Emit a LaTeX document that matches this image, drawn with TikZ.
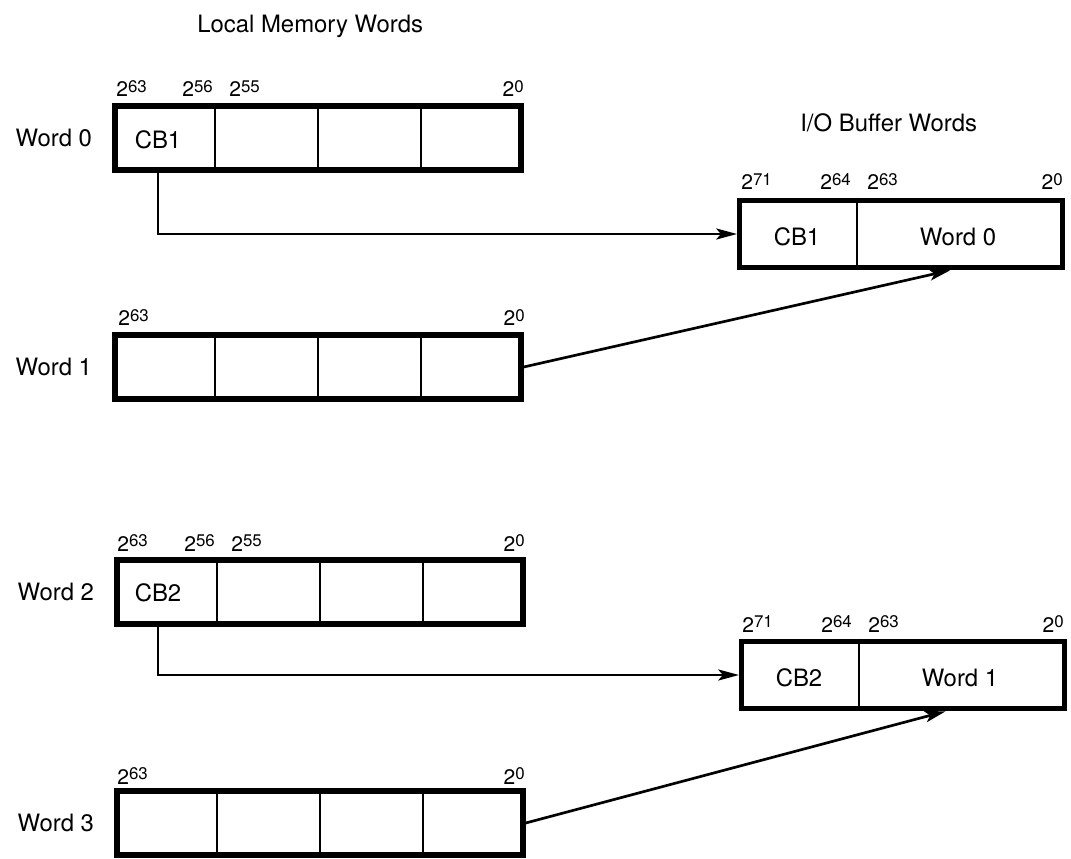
\documentclass[tikz,border=0pt]{standalone}
\usepackage{fontspec}
\setmainfont{TeX Gyre Heros}
\usepackage{tikz}
\usetikzlibrary{arrows.meta,positioning,calc}
\newcommand{\bitpos}[1]{2\raisebox{0.45ex}{\fontsize{12}{12}\selectfont #1}}

\begin{document}
\begin{tikzpicture}[x=0.025cm,y=-0.025cm,
  font=\fontsize{17}{20}\selectfont,
  wbox/.style={draw,line width=3.8pt,minimum width=10.15cm,minimum height=1.6cm,inner sep=0pt},
  iobox/.style={draw,line width=3.8pt,minimum width=8.07cm,minimum height=1.68cm,inner sep=0pt},
  sep/.style={line width=1.3pt},
  lab/.style={inner sep=0pt},
  bit/.style={inner sep=0pt,font=\fontsize{15}{17}\selectfont},
  arr/.style={-{Stealth[length=5.2mm,width=2.8mm,inset=1.2mm]},line width=1.2pt},
  darr/.style={arr,line width=1.9pt}]
\useasboundingbox (0,0) rectangle (1071,859);
% ---------- Titles ----------
\node[lab,anchor=base west] (lmtitle) at (197,33) {Local Memory Words};
\node[lab,anchor=base west] (iotitle) at (800,132) {I/O Buffer Words};
% ---------- Local memory words ----------
\node[wbox] (w0) at (318,138) {};
\node[wbox] (w1) at (318,367) {};
\node[wbox] (w2) at (320,592) {};
\node[wbox] (w3) at (320,823) {};
\foreach \w in {w0,w1,w2,w3}
  \foreach \f in {0.25,0.5,0.75}
    \draw[sep] ($(\w.north west)!\f!(\w.north east)$) -- ($(\w.south west)!\f!(\w.south east)$);
\node[lab,left=0.5cm of w0] (w0name) {Word 0};
\node[lab,left=0.5cm of w1] (w1name) {Word 1};
\node[lab,left=0.5cm of w2] (w2name) {Word 2};
\node[lab,left=0.5cm of w3] (w3name) {Word 3};
\node[lab] (cb1) at (158,140) {CB1};
\node[lab] (cb2) at (158,593) {CB2};
% bit positions above the local words
\node[bit,anchor=base west] (w0b63) at (116,97) {\bitpos{63}};
\node[bit,anchor=base west] (w0b56) at (182,97) {\bitpos{56}};
\node[bit,anchor=base west] (w0b55) at (229,97) {\bitpos{55}};
\node[bit,anchor=base east] (w0b0) at (524,97) {\bitpos{0}};
\node[bit,anchor=base west] (w1b63) at (118,326) {\bitpos{63}};
\node[bit,anchor=base east] (w1b0) at (525,326) {\bitpos{0}};
\node[bit,anchor=base west] (w2b63) at (117,551) {\bitpos{63}};
\node[bit,anchor=base west] (w2b56) at (184,551) {\bitpos{56}};
\node[bit,anchor=base west] (w2b55) at (231,551) {\bitpos{55}};
\node[bit,anchor=base east] (w2b0) at (525,551) {\bitpos{0}};
\node[bit,anchor=base west] (w3b63) at (117,784) {\bitpos{63}};
\node[bit,anchor=base east] (w3b0) at (525,784) {\bitpos{0}};
% ---------- I/O buffer words ----------
\node[iobox] (io0) at (901,234) {};
\node[iobox] (io1) at (903,675) {};
\foreach \w in {io0,io1}
  \draw[sep] ($(\w.north west)!0.366!(\w.north east)$) -- ($(\w.south west)!0.366!(\w.south east)$);
\node[lab] (io0cb) at (797,237) {CB1};
\node[lab] (io0w) at (958,237) {Word 0};
\node[lab] (io1cb) at (799,678) {CB2};
\node[lab] (io1w) at (960,678) {Word 1};
\node[bit,anchor=base west] (io0b71) at (741,190) {\bitpos{71}};
\node[bit,anchor=base west] (io0b64) at (820,190) {\bitpos{64}};
\node[bit,anchor=base west] (io0b63) at (867,190) {\bitpos{63}};
\node[bit,anchor=base east] (io0b0) at (1063,190) {\bitpos{0}};
\node[bit,anchor=base west] (io1b71) at (742,632) {\bitpos{71}};
\node[bit,anchor=base west] (io1b64) at (821,632) {\bitpos{64}};
\node[bit,anchor=base west] (io1b63) at (868,632) {\bitpos{63}};
\node[bit,anchor=base east] (io1b0) at (1064,632) {\bitpos{0}};
% ---------- Connectors ----------
\coordinate (in0) at ($(io0.south west)!0.65!(io0.south east)$);
\coordinate (in1) at ($(io1.south west)!0.63!(io1.south east)$);
\draw[arr] (cb1 |- w0.south) |- (io0.west);
\draw[arr] (cb2 |- w2.south) |- (io1.west);
\draw[darr] (w1.east) -- (in0);
\draw[darr] (w3.east) -- (in1);
\end{tikzpicture}
\end{document}
